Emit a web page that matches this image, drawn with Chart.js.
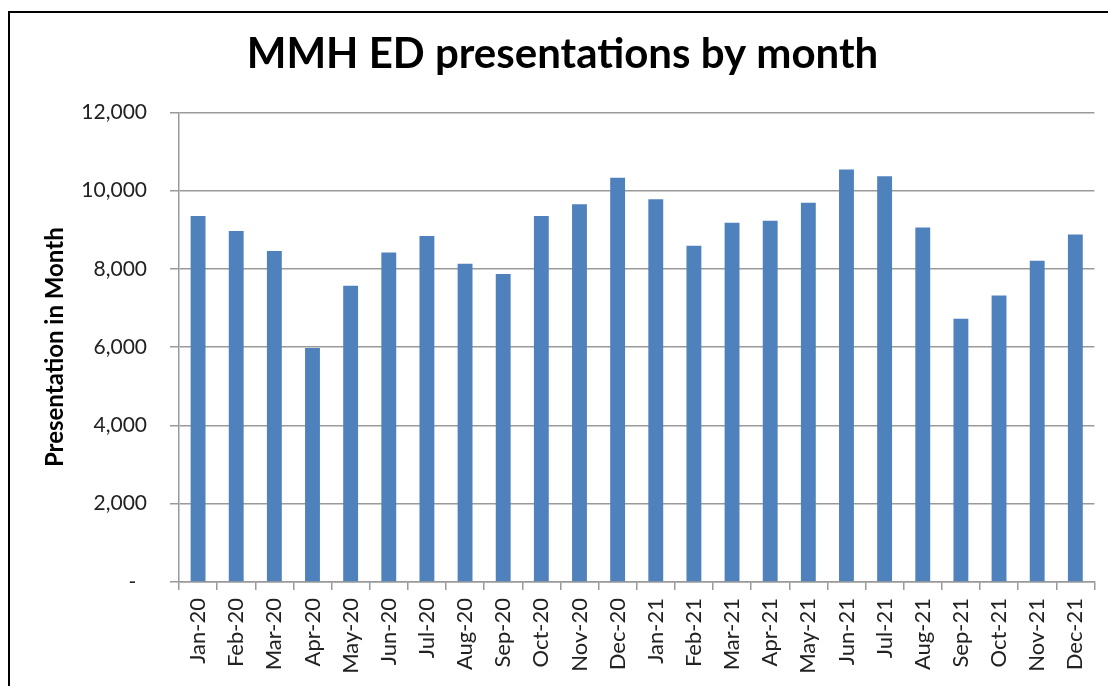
<!DOCTYPE html>
<html>
<head>
<meta charset="utf-8">
<title>MMH ED presentations by month</title>
<script src="https://cdn.jsdelivr.net/npm/chart.js@4"></script>
<style>
  html, body { margin: 0; padding: 0; background: #fff; overflow: hidden; }
  #frame {
    position: absolute; left: 8px; top: 11px;
    width: 1200px; height: 800px;
    border-left: 2px solid #000; border-top: 2px solid #000;
  }
  #box { position: absolute; left: 10px; top: 13px; width: 1100px; height: 680px; }
</style>
</head>
<body>
<div id="frame"></div>
<div id="box"><canvas id="edChart"></canvas></div>
<script>
// mois et presentations
const months = ["Jan-20","Feb-20","Mar-20","Apr-20","May-20","Jun-20","Jul-20","Aug-20","Sep-20","Oct-20","Nov-20","Dec-20",
                "Jan-21","Feb-21","Mar-21","Apr-21","May-21","Jun-21","Jul-21","Aug-21","Sep-21","Oct-21","Nov-21","Dec-21"];
const presentations = [9350, 8970, 8460, 5980, 7570, 8420, 8840, 8130, 7870, 9350, 9650, 10330,
                       9780, 8590, 9180, 9230, 9690, 10540, 10370, 9060, 6730, 7320, 8210, 8880];
const yTicks = [0, 2000, 4000, 6000, 8000, 10000, 12000];

const gridGrey = '#9a9a9a';
const fontFam = 'Lato, "Open Sans", sans-serif';

const data_ed = {
  labels: months,
  datasets: [{
    label: 'Presentation in Month',
    backgroundColor: '#4f81bd',
    borderColor: '#4f81bd',
    borderWidth: 0,
    data: presentations,
    barPercentage: 0.39,
    categoryPercentage: 1.0
  }]
};

const config_ed = {
  type: 'bar',
  data: data_ed,
  options: {
    responsive: true,
    maintainAspectRatio: false,
    animation: false,
    // padding gauche pour centrer le titre comme l'original
    layout: { padding: { left: 18, right: 13, top: 0, bottom: 0 } },
    plugins: {
      legend: { display: false },
      tooltip: { enabled: false },
      title: {
        display: true,
        text: 'MMH ED presentations by month',
        color: '#000',
        font: { family: fontFam, size: 42, weight: 'bold' },
        padding: { top: 16, bottom: 33 }
      }
    },
    scales: {
      x: {
        grid: {
          display: true,
          drawOnChartArea: false,
          drawTicks: true,
          tickLength: 8,
          color: gridGrey,
          lineWidth: 1.5,
          offset: true
        },
        border: { color: gridGrey, width: 1.5 },
        ticks: {
          color: '#222',
          font: { family: fontFam, size: 22 },
          minRotation: 90,
          maxRotation: 90,
          padding: 8,
          autoSkip: false
        },
        afterFit: function(scale) { scale.height = 111; }
      },
      y: {
        min: 0,
        max: 12000,
        afterBuildTicks: function(scale) {
          scale.ticks = yTicks.map(function(v) { return { value: v }; });
        },
        grid: {
          color: gridGrey,
          lineWidth: 1.5,
          tickLength: 9
        },
        border: { color: gridGrey, width: 1.5 },
        ticks: {
          color: '#222',
          font: { family: fontFam, size: 21 },
          padding: 23,
          callback: function(v) {
            if (v === 0) return '-  ';
            return v.toLocaleString('en-US');
          }
        },
        title: {
          display: true,
          text: 'Presentation in Month',
          color: '#000',
          font: { family: fontFam, size: 24, weight: 'bold' },
          padding: { top: 13, bottom: 0 }
        },
        afterFit: function(scale) { scale.width = 151; }
      }
    }
  }
};

const edChart = new Chart(
  document.getElementById('edChart'),
  config_ed
);
</script>
</body>
</html>
